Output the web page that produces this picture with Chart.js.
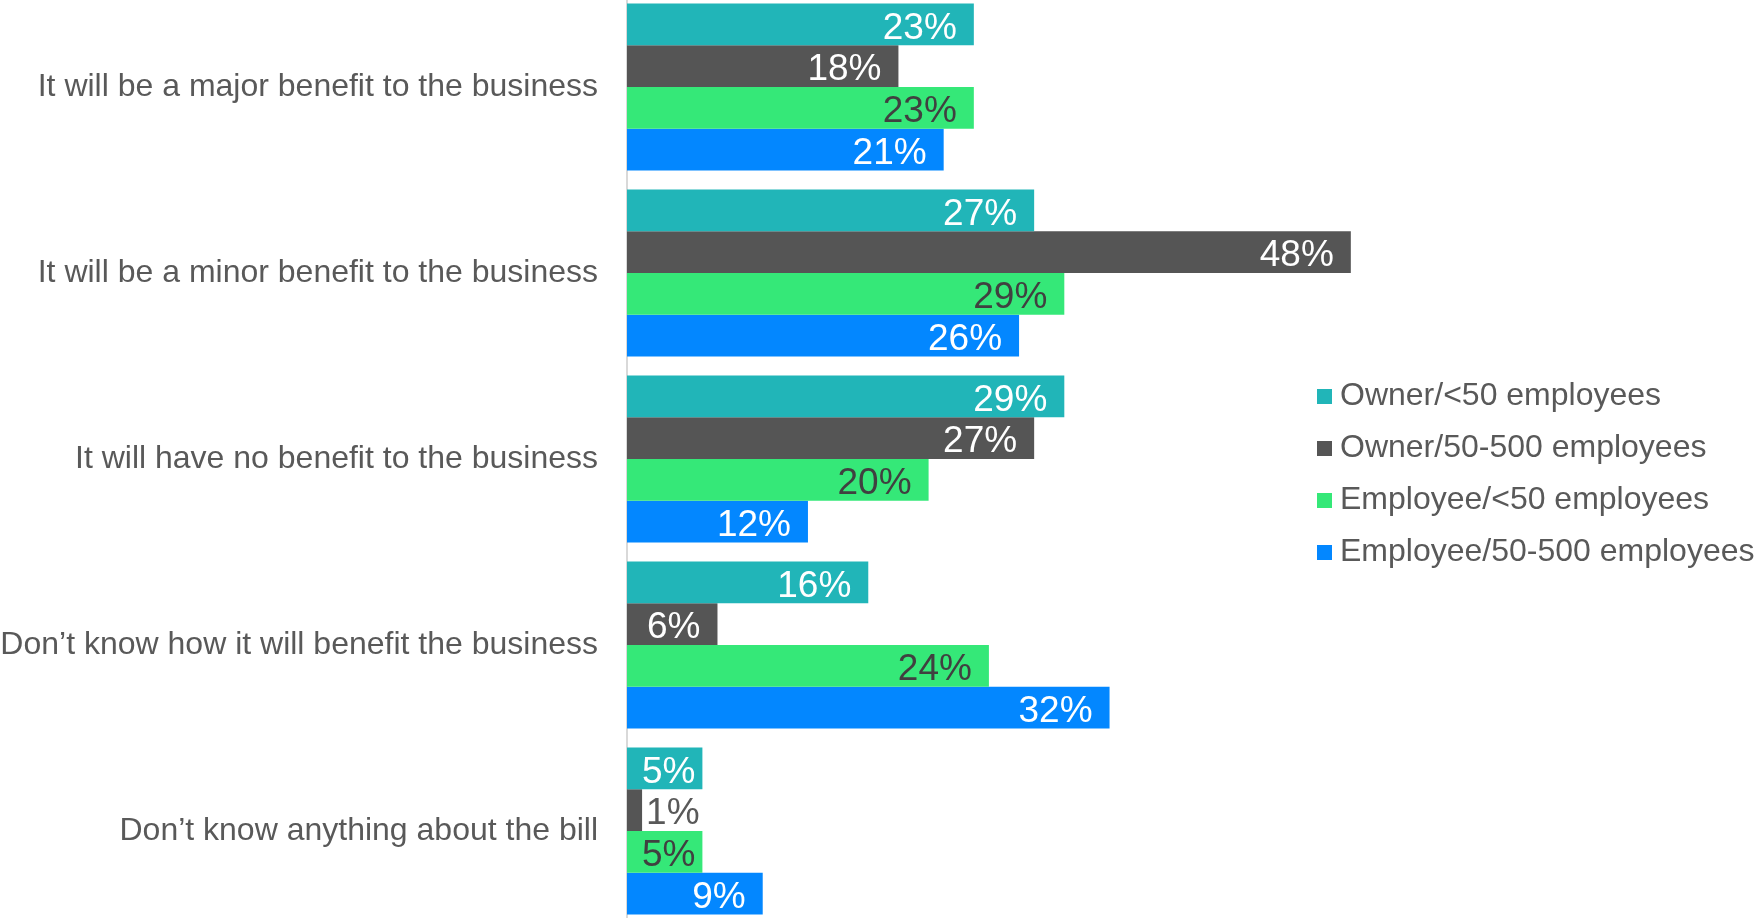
<!DOCTYPE html>
<html>
<head>
<meta charset="utf-8">
<script src="https://cdn.jsdelivr.net/npm/chart.js@4.4.0/dist/chart.umd.min.js"></script>
<style>
  html, body { margin: 0; padding: 0; background: #fff; overflow: hidden; }
  #wrap { position: relative; width: 1754px; height: 930px; margin-top: -6px; }
</style>
</head>
<body>
<div id="wrap"><canvas id="chart"></canvas></div>
<script>
const categories = [
  "It will be a major benefit to the business",
  "It will be a minor benefit to the business",
  "It will have no benefit to the business",
  "Don\u2019t know how it will benefit the business",
  "Don\u2019t know anything about the bill"
];
const series_names = [
  "Owner/<50 employees",
  "Owner/50-500 employees",
  "Employee/<50 employees",
  "Employee/50-500 employees"
];
const owner_small = [23, 27, 29, 16, 5];
const owner_mid = [18, 48, 27, 6, 1];
const employee_small = [23, 29, 20, 24, 5];
const employee_mid = [21, 26, 12, 32, 9];

const series_colors = ["#21b5b8", "#555555", "#35e878", "#0387ff"];
const value_label_colors = ["#ffffff", "#ffffff", "#404040", "#ffffff"];

const font_family = "'Liberation Sans', Arial, sans-serif";

// legend marker: square sitting at the right of a wider transparent image,
// so the square ends up close to the legend text
function legend_marker(color) {
  const c = document.createElement("canvas");
  c.width = 31;
  c.height = 15;
  const g = c.getContext("2d");
  g.fillStyle = color;
  g.fillRect(16, 0, 15, 15);
  return c;
}

// value labels drawn at the inside end of each bar
const value_labels = {
  id: "value_labels",
  afterDatasetsDraw(chart) {
    const ctx = chart.ctx;
    ctx.save();
    ctx.font = "37px " + font_family;
    ctx.textBaseline = "middle";
    chart.data.datasets.forEach((ds, i) => {
      const meta = chart.getDatasetMeta(i);
      meta.data.forEach((bar, j) => {
        const text = ds.data[j] + "%";
        const tw = ctx.measureText(text).width;
        const len = bar.x - bar.base;
        let x;
        if (len >= tw + 36) {
          ctx.textAlign = "right";
          x = bar.x - 17;
          ctx.fillStyle = value_label_colors[i];
        } else if (len >= tw) {
          ctx.textAlign = "center";
          x = (bar.x + bar.base) / 2 + 4;
          ctx.fillStyle = value_label_colors[i];
        } else {
          ctx.textAlign = "left";
          x = bar.x + 4;
          ctx.fillStyle = "#595959";
        }
        ctx.fillText(text, x, bar.y + 4);
      });
    });
    ctx.restore();
  }
};

const all_series = [owner_small, owner_mid, employee_small, employee_mid];

new Chart(document.getElementById("chart"), {
  type: "bar",
  data: {
    labels: categories,
    datasets: all_series.map((vals, i) => ({
      label: series_names[i],
      data: vals,
      backgroundColor: series_colors[i],
      borderColor: series_colors[i],
      borderWidth: 0,
      pointStyle: legend_marker(series_colors[i]),
      categoryPercentage: 0.898,
      barPercentage: 1.0,
      clip: false
    }))
  },
  options: {
    indexAxis: "y",
    responsive: true,
    maintainAspectRatio: false,
    animation: false,
    layout: { padding: 0 },
    scales: {
      x: {
        display: false,
        min: 0,
        max: 43.9
      },
      y: {
        grid: { display: false },
        border: { display: true, color: "#d9d9d9", width: 2 },
        ticks: {
          color: "#595959",
          font: { family: font_family, size: 32 },
          padding: 21,
          autoSkip: false
        },
        afterFit(scale) {
          scale.width = 627;
          scale.paddingTop = 0;
          scale.paddingBottom = 0;
        }
      }
    },
    plugins: {
      legend: {
        position: "right",
        align: "center",
        maxWidth: 465,
        title: { display: true, text: " ", padding: 0, font: { size: 25, lineHeight: 1.2 } },
        labels: {
          usePointStyle: true,
          pointStyleWidth: 15,
          boxWidth: 15,
          boxHeight: 15,
          padding: 20,
          color: "#595959",
          font: { family: font_family, size: 32 }
        }
      },
      tooltip: { enabled: false }
    }
  },
  plugins: [value_labels]
});
</script>
</body>
</html>
